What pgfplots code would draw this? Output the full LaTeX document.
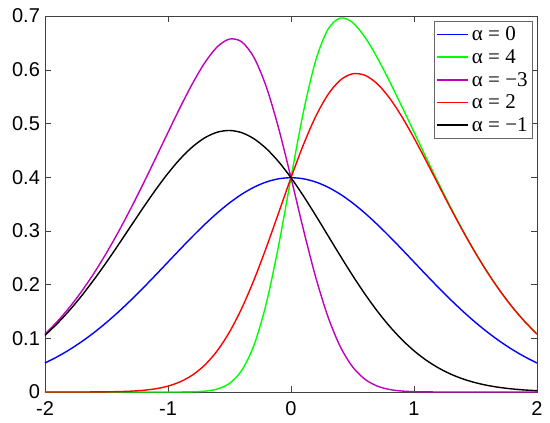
\documentclass[border=0pt]{standalone}
\usepackage{fontspec}
\setmainfont{Liberation Sans}
\newfontfamily\legfont{Liberation Serif}
\usepackage{pgfplots}
\usepackage{pgfplotstable}
\pgfplotsset{compat=1.18}
\definecolor{mblue}{rgb}{0,0,1}
\definecolor{mgreen}{rgb}{0,1,0}
\definecolor{mmag}{rgb}{0.75,0,0.75}
\definecolor{mred}{rgb}{1,0,0}

% skew-normal densities, columns: x, alpha=0, 4, -3, 2, -1
\pgfplotstableread{
x     a0       a4       am3      a2       am1
-2.0  0.053991 0        0.107982 0.000003 0.105526
-1.9  0.065616 0        0.131232 0.000010 0.127463
-1.8  0.078950 0        0.157900 0.000025 0.152227
-1.7  0.094049 0        0.188098 0.000063 0.179715
-1.6  0.110921 0        0.221842 0.000152 0.209686
-1.5  0.129518 0        0.259035 0.000350 0.241730
-1.4  0.149727 0        0.299451 0.000765 0.275271
-1.3  0.171369 0        0.342721 0.001597 0.309561
-1.2  0.194186 0        0.388310 0.003184 0.343682
-1.1  0.217852 0.000002 0.435494 0.006058 0.376594
-1.0  0.241971 0.000015 0.483288 0.011010 0.407162
-0.9  0.266085 0.000085 0.530325 0.019121 0.434219
-0.8  0.289692 0.000398 0.574633 0.031750 0.456638
-0.7  0.312254 0.001596 0.613351 0.050434 0.473399
-0.6  0.333225 0.005464 0.642504 0.076688 0.483674
-0.5  0.352065 0.016019 0.657089 0.111714 0.486879
-0.4  0.368270 0.040362 0.651786 0.156040 0.482745
-0.3  0.381388 0.087773 0.622379 0.209194 0.471328
-0.2  0.391043 0.165689 0.567596 0.269489 0.453031
-0.1  0.396953 0.273562 0.490563 0.334027 0.428572
0.0   0.398942 0.398942 0.398942 0.398942 0.398942
0.1   0.396953 0.520343 0.303342 0.459878 0.365333
0.2   0.391043 0.616396 0.214489 0.512596 0.329054
0.3   0.381388 0.675003 0.140397 0.553582 0.291448
0.4   0.368270 0.696178 0.084754 0.580500 0.253795
0.5   0.352065 0.688111 0.047041 0.592416 0.217251
0.6   0.333225 0.660985 0.023945 0.589761 0.182775
0.7   0.312254 0.622911 0.011156 0.574073 0.151108
0.8   0.289692 0.578985 0.004750 0.547633 0.122745
0.9   0.266085 0.532085 0.001845 0.513049 0.097951
1.0   0.241971 0.483926 0.000653 0.472931 0.076779
1.1   0.217852 0.435702 0.000210 0.429646 0.059110
1.2   0.194186 0.388372 0.000062 0.385188 0.044690
1.3   0.171369 0.342738 0.000017 0.341141 0.033177
1.4   0.149727 0.299455 0.000004 0.298690 0.024184
1.5   0.129518 0.259035 0        0.258685 0.017305
1.6   0.110921 0.221842 0        0.221690 0.012156
1.7   0.094049 0.188098 0        0.188035 0.008383
1.8   0.078950 0.157900 0        0.157875 0.005673
1.9   0.065616 0.131232 0        0.131222 0.003769
2.0   0.053991 0.107982 0        0.107979 0.002456
}\skewdata

\begin{document}
\begin{tikzpicture}
\begin{axis}[
  scale only axis, width=246pt, height=188pt,
  xmin=-2, xmax=2, ymin=0, ymax=0.7,
  xtick={-2,-1,0,1,2}, ytick={0,0.1,...,0.7},
  tick align=inside, major tick length=3pt,
  axis line style={black!75}, tick style={black!75},
  tick label style={font=\fontsize{10}{11}\selectfont},
  yticklabel style={xshift=1pt},
  xticklabel style={yshift=-1.2pt},
  /pgf/number format/assume math mode=true,
  clip=false,
  every axis plot/.append style={line width=0.7pt, smooth, no markers},
  legend style={at={(0.992,0.987)}, anchor=north east, draw=black!60,
    font=\legfont\fontsize{10.5}{11.5}\selectfont, inner sep=1pt,
    row sep=0pt,
    nodes={inner sep=1.5pt, text height=7.3pt, text depth=1pt}},
  legend cell align=left,
  legend image code/.code={\draw[#1, line width=0.75pt] (0pt,0pt) -- (15.5pt,0pt);},
]
\addplot[mblue] table[x=x, y=a0] {\skewdata};
\addplot[mgreen] table[x=x, y=a4] {\skewdata};
\addplot[mmag] table[x=x, y=am3] {\skewdata};
\addplot[mred] table[x=x, y=a2] {\skewdata};
\addplot[black] table[x=x, y=am1] {\skewdata};
\legend{α = 0, α = 4, α = −3, α = 2, α = −1}
\end{axis}
\path (current axis.south west) ++(-22.5pt,-14.5pt) rectangle ++(275pt,210.5pt);
\end{tikzpicture}
\end{document}
